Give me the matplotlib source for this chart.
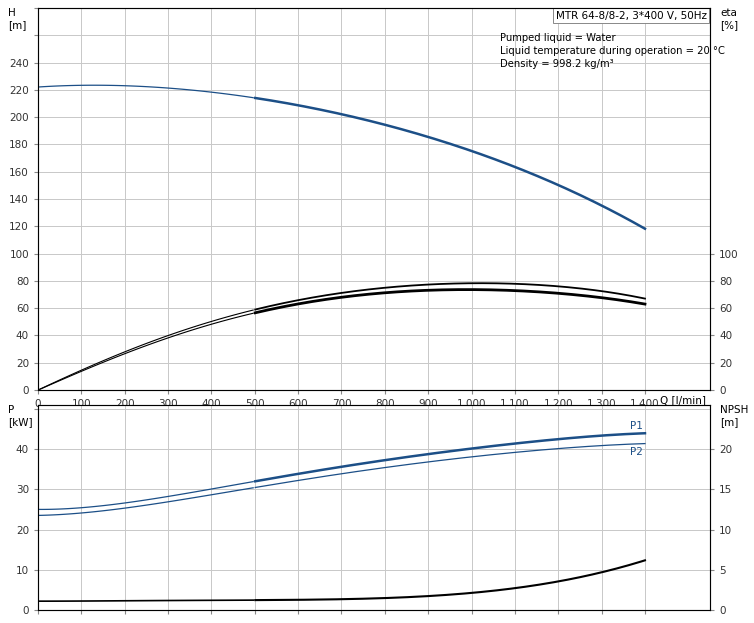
import matplotlib.pyplot as plt
import numpy as np

q = [0, 97, 193, 290, 386, 483, 579, 676, 772, 869, 966, 1062, 1159, 1255, 1352, 1400]
head = [222, 223.5, 223, 221.5, 219, 214.5, 210, 204, 197, 188, 179, 168, 156, 142, 127, 118]
eta_pump = [0, 14, 27, 39, 49, 57, 65, 70, 74, 76.5, 78, 78.5, 77, 74, 70, 67]
eta_total = [0, 13, 26, 37, 47, 55, 62, 67, 70.5, 72.5, 73.5, 73.5, 72, 69, 65.5, 63]
p1 = [25, 25.5, 26.5, 28, 29.8, 31.8, 33.5, 35.2, 36.8, 38.3, 39.7, 41, 42.1, 43, 43.7, 44]
p2 = [23.5, 24.2, 25.2, 26.7, 28.4, 30.2, 31.9, 33.5, 35, 36.4, 37.7, 38.8, 39.8, 40.6, 41.2, 41.4]
npsh = [1.1, 1.12, 1.14, 1.16, 1.2, 1.25, 1.28, 1.32, 1.4, 1.6, 2.0, 2.5, 3.2, 4.1, 5.4, 6.2]

BLUE = '#1c4f87'
GRID = '#c8c8c8'
plt.rcParams['font.family'] = 'DejaVu Sans'
plt.rcParams['font.size'] = 7.5

fig = plt.figure(figsize=(7.54, 6.23), dpi=100)
ax1 = fig.add_axes([38/754, 1-390/623, 672/754, 382/623])
ax2 = fig.add_axes([38/754, 1-610/623, 672/754, 205/623])


def draw(ax, x, y, color, lw_thin, lw_thick):
    xs = np.linspace(x[0], x[-1], 300)
    ys = np.polyval(np.polyfit(x, y, 5), xs)
    ax.plot(xs[xs <= 500], ys[xs <= 500], color=color, lw=lw_thin)
    ax.plot(xs[xs >= 500], ys[xs >= 500], color=color, lw=lw_thick)


for ax in (ax1, ax2):
    ax.set_xlim(0, 1550)
    ax.set_xticks(range(0, 1401, 100))
    ax.grid(True, color=GRID, lw=0.7)
    ax.tick_params(length=3, color='#888888', labelcolor='#333333')
    for s in ax.spines.values():
        s.set_color('#888888')

ax1.set_ylim(0, 280)
ax1.set_yticks(range(0, 281, 20))
ax1.set_yticklabels([str(v) if v <= 240 else '' for v in range(0, 281, 20)])
ax1.set_xticklabels(['{:,}'.format(v) for v in range(0, 1401, 100)])
draw(ax1, q, head, BLUE, 0.9, 1.8)
draw(ax1, q, eta_pump, 'black', 0.8, 1.3)
draw(ax1, q, eta_total, 'black', 0.8, 2.0)
ax1r = ax1.twinx()
ax1r.set_ylim(0, 280)
ax1r.set_yticks(range(0, 101, 20))
ax1r.tick_params(length=3, color='#888888', labelcolor='#333333')
ax1.text(-0.045, 1.0, 'H\n[m]', transform=ax1.transAxes, va='top', ha='left')
ax1.text(1.015, 1.0, 'eta\n[%]', transform=ax1.transAxes, va='top', ha='left')
ax1.text(1540, -4, 'Q [l/min]', ha='right', va='top')
ax1.text(0.995, 0.993, 'MTR 64-8/8-2, 3*400 V, 50Hz', transform=ax1.transAxes,
         ha='right', va='top', bbox=dict(fc='white', ec='#888888', lw=0.7, pad=2))
ax1.text(0.688, 0.935, 'Pumped liquid = Water\nLiquid temperature during operation = 20 °C\nDensity = 998.2 kg/m³',
         transform=ax1.transAxes, ha='left', va='top', linespacing=1.4, fontsize=7.2)

ax2.set_ylim(0, 51)
ax2.set_yticks(range(0, 51, 10))
ax2.set_yticklabels(['0', '10', '20', '30', '40', ''])
ax2.set_xticklabels([])
draw(ax2, q, p1, BLUE, 0.9, 1.8)
draw(ax2, q, p2, BLUE, 0.9, 0.9)
draw(ax2, q, [2 * v for v in npsh], 'black', 1.2, 1.5)
ax2r = ax2.twinx()
ax2r.set_ylim(0, 25.5)
ax2r.set_yticks(range(0, 21, 5))
ax2r.tick_params(length=3, color='#888888', labelcolor='#333333')
ax2.text(1365, 45, 'P1', color=BLUE)
ax2.text(1365, 38.5, 'P2', color=BLUE)
ax2.text(-0.045, 1.0, 'P\n[kW]', transform=ax2.transAxes, va='top', ha='left')
ax2.text(1.015, 1.0, 'NPSH\n[m]', transform=ax2.transAxes, va='top', ha='left')

fig.savefig('out.png', dpi=100)
